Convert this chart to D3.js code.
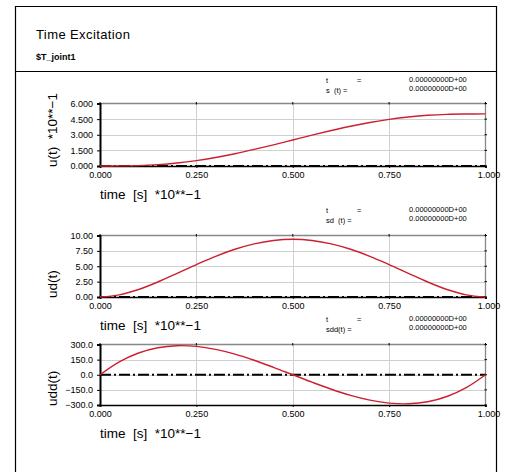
<!DOCTYPE html>
<html>
<head>
<meta charset="utf-8">
<script src="https://cdn.jsdelivr.net/npm/d3@7"></script>
<style>
  body { margin: 0; background: #fff; }
  svg { font-family: "Liberation Sans", Arial, sans-serif; }
</style>
</head>
<body>
<div id="chart"></div>
<script>
// time samples (axis is scaled *10**-1)
var tVals = [0, 0.05, 0.1, 0.15, 0.2, 0.25, 0.3, 0.35, 0.4, 0.45, 0.5,
             0.55, 0.6, 0.65, 0.7, 0.75, 0.8, 0.85, 0.9, 0.95, 1];
// displacement u(t) *10**-1
var uVals = [0, 0.01, 0.04, 0.13, 0.29, 0.52, 0.82, 1.18, 1.59, 2.03, 2.50,
             2.97, 3.41, 3.82, 4.18, 4.48, 4.71, 4.87, 4.96, 4.99, 5.00];
// velocity ud(t)
var udVals = [0, 0.34, 1.22, 2.44, 3.84, 5.27, 6.62, 7.76, 8.64, 9.19, 9.38,
              9.19, 8.64, 7.76, 6.62, 5.27, 3.84, 2.44, 1.22, 0.34, 0];
// acceleration udd(t)
var uddVals = [0, 128, 216, 268, 288, 281, 252, 205, 144, 74, 0,
               -74, -144, -205, -252, -281, -288, -268, -216, -128, 0];

var xTicks = [0, 0.25, 0.5, 0.75, 1];
var uTicks = [0, 1.5, 3, 4.5, 6];
var udTicks = [0, 2.5, 5, 7.5, 10];
var uddTicks = [-300, -150, 0, 150, 300];

var statLabels = ["s  (t) =", "sd  (t) =", "sdd(t) ="];
var statValue = "0.00000000D+00";

var width = 506, height = 472;

var svg = d3.select("#chart").append("svg")
    .attr("width", width)
    .attr("height", height);

// outer frame
svg.append("path")
    .attr("d", "M15.5,472 V6.5 H496.5 V472")
    .attr("fill", "none").attr("stroke", "#000").attr("stroke-width", 1.2);
svg.append("line")
    .attr("x1", 15.5).attr("x2", 496.5).attr("y1", 71.5).attr("y2", 71.5)
    .attr("stroke", "#000").attr("stroke-width", 1.2);

svg.append("text").attr("x", 36).attr("y", 39)
    .style("font-size", "13px").style("letter-spacing", "0.4px")
    .text("Time  Excitation");
svg.append("text").attr("x", 36).attr("y", 60)
    .style("font-size", "9px").style("font-weight", "bold")
    .text("$T_joint1");

var panels = [
    {vals: uVals, ticks: uTicks, fmt: ".3f", ylab: "u(t)  *10**\u22121", top: 103.5, bottom: 166, statY: 83, stat: statLabels[0]},
    {vals: udVals, ticks: udTicks, fmt: ".2f", ylab: "ud(t)", top: 235.5, bottom: 297, statY: 213, stat: statLabels[1]},
    {vals: uddVals, ticks: uddTicks, fmt: ".1f", ylab: "udd(t)", top: 344.5, bottom: 405, statY: 322, stat: statLabels[2]}
];

var x = d3.scaleLinear().domain([0, 1]).range([100, 485.5]);

panels.forEach(function(p) {
    var y = d3.scaleLinear()
        .domain([p.ticks[0], p.ticks[p.ticks.length - 1]])
        .range([p.bottom, p.top]);
    var g = svg.append("g");

    // grid
    g.selectAll(".hgrid").data(p.ticks.slice(1, -1)).enter().append("line")
        .attr("x1", x(0)).attr("x2", x(1))
        .attr("y1", function(d) { return Math.round(y(d)) + 0.5; })
        .attr("y2", function(d) { return Math.round(y(d)) + 0.5; })
        .attr("stroke", "#d0d0d0");
    g.selectAll(".vgrid").data(xTicks.slice(1, -1)).enter().append("line")
        .attr("x1", function(d) { return Math.round(x(d)) + 0.5; })
        .attr("x2", function(d) { return Math.round(x(d)) + 0.5; })
        .attr("y1", p.top).attr("y2", p.bottom)
        .attr("stroke", "#d0d0d0");

    // top and right border
    g.append("path")
        .attr("d", "M" + x(0) + "," + p.top + " H" + x(1) + " V" + p.bottom)
        .attr("fill", "none").attr("stroke", "#888").attr("stroke-width", 1.3);

    // right side ticks
    g.selectAll(".rt").data(p.ticks).enter().append("line")
        .attr("x1", x(1) - 1).attr("x2", x(1) + 1.5)
        .attr("y1", function(d) { return y(d); })
        .attr("y2", function(d) { return y(d); })
        .attr("stroke", "#000");
    g.selectAll(".tt").data(xTicks).enter().append("line")
        .attr("x1", function(d) { return x(d); })
        .attr("x2", function(d) { return x(d); })
        .attr("y1", p.top - 1.5).attr("y2", p.top + 1)
        .attr("stroke", "#000");

    // left axis
    var yAxis = d3.axisLeft(y).tickValues(p.ticks)
        .tickFormat(d3.format(p.fmt))
        .tickSize(3).tickPadding(4);
    var ya = g.append("g").attr("transform", "translate(" + x(0) + ",0)").call(yAxis);
    ya.select(".domain").attr("stroke-width", 2);
    ya.selectAll("text").style("font-size", "9px").style("font-family", "Liberation Sans, Arial, sans-serif");

    // bottom axis
    var xAxis = d3.axisBottom(x).tickValues(xTicks).tickFormat(d3.format(".3f"))
        .tickSize(2).tickPadding(3.5);
    var xa = g.append("g").attr("transform", "translate(0," + p.bottom + ")").call(xAxis);
    xa.select(".domain").attr("stroke-width", 1.6);
    xa.selectAll("text").style("font-size", "9px").style("font-family", "Liberation Sans, Arial, sans-serif");
    xa.selectAll(".tick").filter(function(d) { return d === 1; }).select("text").attr("dx", 3);

    // zero line (dash-dot)
    g.append("line")
        .attr("x1", x(0)).attr("x2", x(1))
        .attr("y1", y(0)).attr("y2", y(0))
        .attr("stroke", "#000").attr("stroke-width", 2)
        .attr("stroke-dasharray", "11,3,2,3");

    // curve
    var line = d3.line()
        .x(function(d, i) { return x(tVals[i]); })
        .y(function(d) { return y(d); })
        .curve(d3.curveCatmullRom);
    g.append("path").datum(p.vals)
        .attr("d", line)
        .attr("fill", "none")
        .attr("stroke", "#cc2030")
        .attr("stroke-width", 1.4);

    // axis titles
    g.append("text")
        .attr("x", 100).attr("y", p.bottom + 33)
        .attr("xml:space", "preserve")
        .style("font-size", "13.5px")
        .text("time  [s]  *10**\u22121");
    g.append("text")
        .attr("transform", "translate(57," + (p.bottom + 1) + ") rotate(-90)")
        .attr("xml:space", "preserve")
        .style("font-size", "13.5px")
        .text(p.ylab);

    // stats block
    var st = g.append("g").style("font-size", "7.5px");
    st.append("text").attr("x", 326).attr("y", p.statY).text("t");
    st.append("text").attr("x", 357).attr("y", p.statY).text("=");
    st.append("text").attr("x", 326).attr("y", p.statY + 10).attr("xml:space", "preserve").text(p.stat);
    st.append("text").attr("x", 409).attr("y", p.statY - 1).text(statValue);
    st.append("text").attr("x", 409).attr("y", p.statY + 8).text(statValue);
});
</script>
</body>
</html>
